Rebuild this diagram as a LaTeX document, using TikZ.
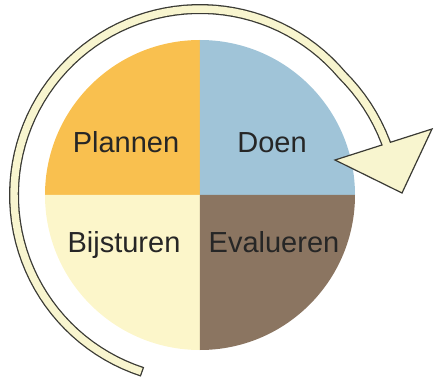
\documentclass[tikz,border=0pt]{standalone}
\usepackage{fontspec}
\setmainfont{Liberation Sans}
\usepackage{tikz}
\usetikzlibrary{positioning}

\definecolor{plancol}{HTML}{F9C04F}
\definecolor{doencol}{HTML}{A0C4D8}
\definecolor{stuurcol}{HTML}{FCF6CA}
\definecolor{evalcol}{HTML}{8B7561}
\definecolor{bandcol}{HTML}{F8F5CF}
\definecolor{randcol}{HTML}{3A3A34}
\definecolor{tekstcol}{HTML}{262626}

\begin{document}
\begin{tikzpicture}[x=1pt,y=1pt,
                word/.style={anchor=base,text=tekstcol,font=\fontsize{29}{34}\selectfont},
                bandrand/.style={draw=randcol,line width=10pt},
                bandvul/.style={draw=bandcol,line width=7.4pt},
                punt/.style={fill=bandcol,draw=randcol,line width=1.2pt,line join=miter},
            ]
                \useasboundingbox (-200,-188) rectangle (234,195);

                \coordinate (m) at (0,0);
                \fill[plancol] (m) -- (90:155) arc (90:180:155) -- cycle;
                \fill[doencol] (m) -- (0:155) arc (0:90:155) -- cycle;
                \fill[stuurcol] (m) -- (180:155) arc (180:270:155) -- cycle;
                \fill[evalcol] (m) -- (270:155) arc (270:360:155) -- cycle;

                \node[word] (plan) at (-74,42) {Plannen};
                \node[word] (doen) at (72,42) {Doen};
                \node[word] (stuur) at (-76,-57) {Bijsturen};
                \node[word] (eval) at (74,-57) {Evalueren};

                \coordinate (tip) at (135,35);
                \coordinate (hoek) at (232,66);
                \coordinate (voet) at (202,2);

% the ring runs from the bottom end round to the point of the arrow
                \def\ring{plot[domain=252:13,samples=80] ({\x}:{186+7*max(0,(40-\x)/24)})}
                \draw[bandrand] \ring;
                \draw[punt] (tip) -- (hoek) -- (voet) -- cycle;
                \draw[bandvul,shorten <=1.3pt] \ring;
            \end{tikzpicture}
\end{document}
